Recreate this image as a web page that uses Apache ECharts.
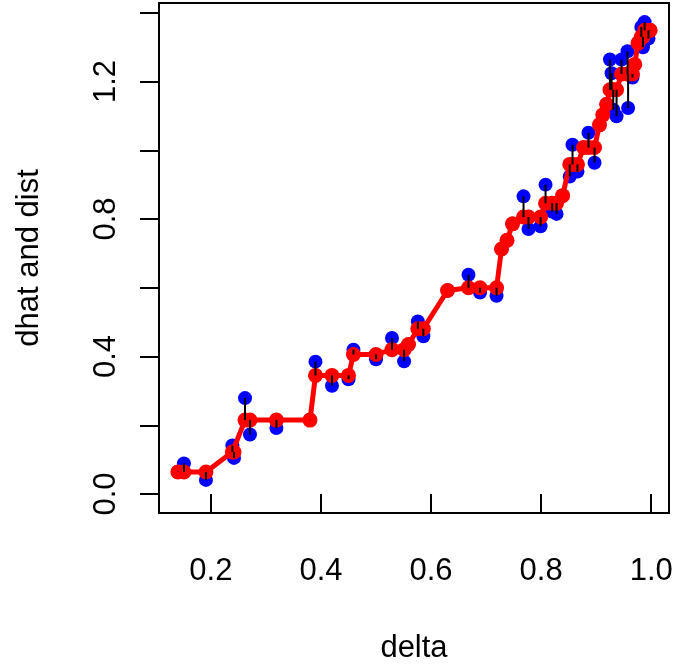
<!DOCTYPE html>
<html>
<head>
<meta charset="utf-8">
<script src="https://cdn.jsdelivr.net/npm/echarts@6/dist/echarts.min.js"></script>
<style>
html,body{margin:0;padding:0;background:#fff;}
#chart{width:678px;height:669px;}
</style>
</head>
<body>
<div id="chart"></div>
<script>
// delta (x), observed distances (blue), fitted dhat (red)
var delta = [0.140,0.151,0.191,0.239,0.242,0.262,0.271,0.319,0.380,0.390,0.420,0.450,0.459,0.500,0.529,0.551,0.559,0.576,0.586,0.630,0.668,0.689,0.719,0.728,0.738,0.748,0.768,0.777,0.799,0.808,0.820,0.828,0.839,0.852,0.857,0.866,0.877,0.886,0.897,0.906,0.912,0.919,0.925,0.928,0.931,0.937,0.946,0.957,0.958,0.966,0.970,0.976,0.982,0.985,0.988,0.995,0.998];
var dist  = [0.065,0.089,0.041,0.141,0.105,0.279,0.173,0.192,0.216,0.385,0.315,0.334,0.420,0.392,0.454,0.386,0.435,0.502,0.459,0.592,0.638,0.586,0.577,0.713,0.738,0.786,0.866,0.771,0.779,0.900,0.822,0.815,0.868,0.924,1.016,0.938,1.008,1.051,0.964,1.074,1.103,1.134,1.264,1.224,1.118,1.099,1.264,1.288,1.123,1.212,1.250,1.312,1.359,1.300,1.373,1.325,1.350];
var dhat  = [0.064,0.064,0.064,0.122,0.122,0.215,0.215,0.215,0.215,0.345,0.345,0.345,0.406,0.406,0.420,0.420,0.435,0.481,0.481,0.592,0.600,0.600,0.600,0.713,0.738,0.786,0.806,0.806,0.806,0.846,0.846,0.846,0.868,0.959,0.959,0.959,1.008,1.008,1.008,1.074,1.103,1.134,1.176,1.176,1.176,1.176,1.222,1.222,1.222,1.222,1.250,1.312,1.330,1.330,1.349,1.349,1.349];
var xTicks = [0.2,0.4,0.6,0.8,1.0];
var yTicks = [0.0,0.2,0.4,0.6,0.8,1.0,1.2,1.4];
var yLabels = [0.0,0.4,0.8,1.2];

var distPts = delta.map(function(d,i){return [d, dist[i]];});
var dhatPts = delta.map(function(d,i){return [d, dhat[i]];});
var segRows = delta.map(function(d,i){return [d, dist[i], dhat[i]];});

var FONT = "'Liberation Sans', Arial, Helvetica, sans-serif";
var FS = 31;

var chart = echarts.init(document.getElementById('chart'), null, {renderer:'canvas'});
chart.setOption({
  animation: false,
  backgroundColor: '#fff',
  grid: {left:159, right:9, top:3, bottom:156, show:true, borderColor:'#000', borderWidth:2, backgroundColor:'transparent', containLabel:false},
  xAxis: {
    type:'value', min:0.1057, max:1.0323,
    name:'delta', nameLocation:'middle', nameGap:120,
    nameTextStyle:{color:'#000', fontFamily:FONT, fontSize:FS},
    splitLine:{show:false},
    axisLine:{show:false},
    axisTick:{show:true, length:19, inside:false, customValues:xTicks, lineStyle:{color:'#000', width:2}},
    axisLabel:{show:true, customValues:xTicks, margin:43, color:'#000', fontFamily:FONT, fontSize:FS,
      formatter:function(v){return v.toFixed(1);}}
  },
  yAxis: {
    type:'value', min:-0.0553, max:1.4286,
    name:'dhat and dist', nameLocation:'middle', nameGap:114,
    nameTextStyle:{color:'#000', fontFamily:FONT, fontSize:FS},
    splitLine:{show:false},
    axisLine:{show:false},
    axisTick:{show:true, length:19, inside:false, customValues:yTicks, lineStyle:{color:'#000', width:2}},
    axisLabel:{show:true, customValues:yLabels, rotate:90, margin:37, color:'#000', fontFamily:FONT, fontSize:FS,
      formatter:function(v){return v.toFixed(1);}}
  },
  series: [
    {type:'scatter', data:distPts, symbol:'circle', symbolSize:14, itemStyle:{color:'#0000FF', opacity:1}, z:2, silent:true},
    {type:'line', data:dhatPts, symbol:'circle', symbolSize:15, showSymbol:true, showAllSymbol:true,
      lineStyle:{color:'#FF0000', width:5}, itemStyle:{color:'#FF0000', borderWidth:0}, z:3, silent:true},
    {type:'custom', data:segRows, encode:{x:0, y:[1,2]}, z:4, silent:true,
      renderItem:function(params, api){
        var p1 = api.coord([api.value(0), api.value(1)]);
        var p2 = api.coord([api.value(0), api.value(2)]);
        return {type:'line', shape:{x1:p1[0], y1:p1[1], x2:p2[0], y2:p2[1]}, style:{stroke:'#000', lineWidth:2}};
      }}
  ]
});
</script>
</body>
</html>
